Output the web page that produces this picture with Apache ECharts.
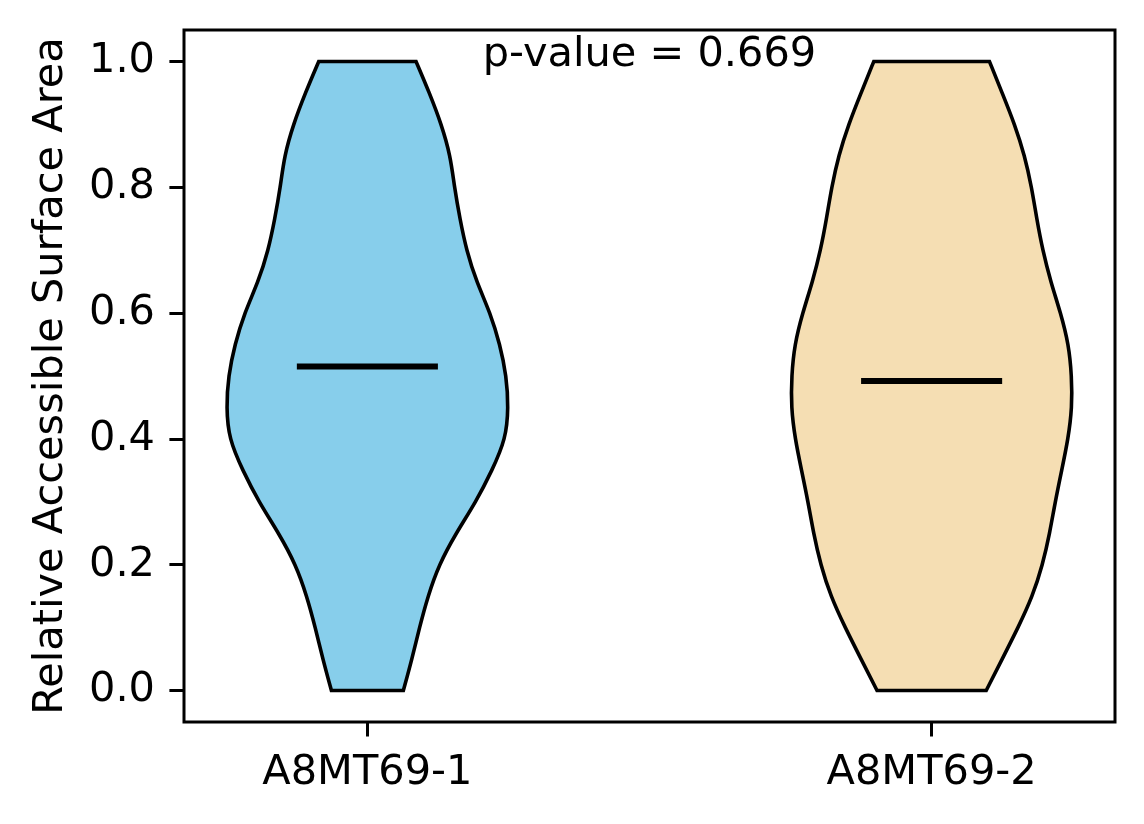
<!DOCTYPE html>
<html>
<head>
<meta charset="utf-8">
<script src="https://cdn.jsdelivr.net/npm/echarts@6/dist/echarts.min.js"></script>
<style>
  html, body { margin: 0; padding: 0; background: #fff; }
  #main { width: 1144px; height: 824px; }
</style>
</head>
<body>
<div id="main"></div>
<script>
// violin data
var categories = ['A8MT69-1', 'A8MT69-2'];
var positions = [1, 2];
var levels = [0.00, 0.05, 0.10, 0.15, 0.20, 0.25, 0.30, 0.35, 0.40, 0.45, 0.50,
              0.55, 0.60, 0.65, 0.70, 0.75, 0.80, 0.85, 0.90, 0.95, 1.00];
// relative density (1 = widest point of the violin)
var density1 = [0.255, 0.316, 0.369, 0.429, 0.507, 0.628, 0.770, 0.884, 0.982, 1.000, 0.986,
                0.940, 0.872, 0.773, 0.702, 0.656, 0.617, 0.589, 0.525, 0.440, 0.345];
var density2 = [0.387, 0.500, 0.613, 0.716, 0.787, 0.837, 0.876, 0.922, 0.968, 0.996, 0.993,
                0.972, 0.915, 0.844, 0.787, 0.745, 0.709, 0.660, 0.589, 0.500, 0.410];
var medians = [0.515, 0.492];
var yTicks = [0, 0.2, 0.4, 0.6, 0.8, 1.0];
var pValue = '0.669';

var densities = [density1, density2];
var fills = ['#87CEEB', '#F5DEB3'];
var halfWidth = 0.25;
var FONT = 'DejaVu Sans';
var FS = 41.5;

// clamped cubic b-spline through the outline points, as bezier segments
function sidePath(pts) {
    var q = [pts[0], pts[0]].concat(pts, [pts[pts.length - 1], pts[pts.length - 1]]);
    var d = '';
    for (var j = 0; j + 3 < q.length; j++) {
        var a = q[j], b = q[j + 1], c = q[j + 2], e = q[j + 3];
        var c1x = (2 * b[0] + c[0]) / 3, c1y = (2 * b[1] + c[1]) / 3;
        var c2x = (b[0] + 2 * c[0]) / 3, c2y = (b[1] + 2 * c[1]) / 3;
        var ex = (b[0] + 4 * c[0] + e[0]) / 6, ey = (b[1] + 4 * c[1] + e[1]) / 6;
        d += 'C' + c1x + ',' + c1y + ' ' + c2x + ',' + c2y + ' ' + ex + ',' + ey;
    }
    return d;
}

function renderViolin(params, api) {
    var idx = params.dataIndex;
    var pos = api.value(0);
    var dens = densities[idx];
    var left = [], right = [];
    for (var i = 0; i < levels.length; i++) {
        left.push(api.coord([pos - halfWidth * dens[i], levels[i]]));
    }
    for (var j = levels.length - 1; j >= 0; j--) {
        right.push(api.coord([pos + halfWidth * dens[j], levels[j]]));
    }
    var d = 'M' + left[0][0] + ',' + left[0][1] + sidePath(left) +
            'L' + right[0][0] + ',' + right[0][1] + sidePath(right) + 'Z';
    var m1 = api.coord([pos - halfWidth / 2, api.value(1)]);
    var m2 = api.coord([pos + halfWidth / 2, api.value(1)]);
    return {
        type: 'group',
        children: [
            {
                type: 'path',
                shape: { pathData: d },
                style: { fill: fills[idx], stroke: '#000', lineWidth: 3.6, lineJoin: 'miter' }
            },
            {
                type: 'line',
                shape: { x1: m1[0], y1: m1[1], x2: m2[0], y2: m2[1] },
                style: { stroke: '#000', lineWidth: 6 }
            }
        ]
    };
}

var myChart = echarts.init(document.getElementById('main'));
var option = {
    animation: false,
    backgroundColor: '#fff',
    grid: {
        left: 184, right: 29, top: 30, bottom: 102,
        show: true, borderColor: '#000', borderWidth: 3, backgroundColor: 'transparent'
    },
    xAxis: {
        type: 'value',
        min: 0.675,
        max: 2.325,
        axisLine: { show: false, onZero: false },
        splitLine: { show: false },
        axisTick: {
            show: true, length: 14.6, customValues: positions,
            lineStyle: { color: '#000', width: 3 }
        },
        axisLabel: {
            customValues: positions,
            margin: 30,
            color: '#000',
            fontFamily: FONT,
            fontSize: FS,
            formatter: function (v) {
                return categories[positions.indexOf(Math.round(v))] || '';
            }
        }
    },
    yAxis: {
        type: 'value',
        min: -0.05,
        max: 1.05,
        name: 'Relative Accessible Surface Area',
        nameLocation: 'middle',
        nameGap: 112,
        nameTextStyle: { color: '#000', fontFamily: FONT, fontSize: FS },
        axisLine: { show: false, onZero: false },
        splitLine: { show: false },
        axisTick: {
            show: true, length: 14.6, customValues: yTicks,
            lineStyle: { color: '#000', width: 3 }
        },
        axisLabel: {
            customValues: yTicks,
            margin: 29,
            color: '#000',
            fontFamily: FONT,
            fontSize: FS,
            formatter: function (v) { return v.toFixed(1); }
        }
    },
    graphic: [{
        type: 'text',
        x: 649.5,
        y: 55,
        style: {
            text: 'p-value = ' + pValue,
            fill: '#000',
            font: FS + 'px "' + FONT + '"',
            align: 'center',
            verticalAlign: 'middle',
            textAlign: 'center',
            textVerticalAlign: 'middle'
        }
    }],
    series: [{
        type: 'custom',
        renderItem: renderViolin,
        encode: { x: 0, y: 1 },
        data: [[positions[0], medians[0]], [positions[1], medians[1]]]
    }]
};
myChart.setOption(option);
window.addEventListener('resize', function () {
    myChart.resize();
});
</script>
</body>
</html>
